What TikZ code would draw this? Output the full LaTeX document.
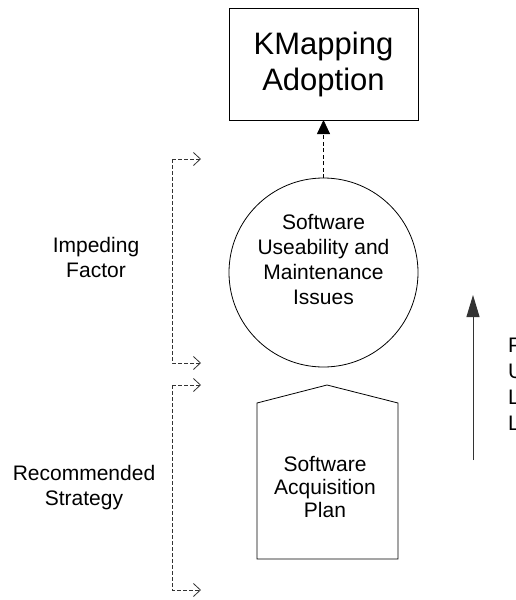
\documentclass[tikz,border=0pt]{standalone}
\usepackage{fontspec}
\setmainfont{Liberation Sans}
\usetikzlibrary{arrows.meta}
\begin{document}
\begin{tikzpicture}[x=1pt,y=-1pt,
  every node/.style={inner sep=0pt,outer sep=0pt},
  shapeline/.style={draw=black,line width=0.8pt},
  txt/.style={align=center,font=\fontsize{21}{25}\selectfont},
  bigtxt/.style={align=center,font=\fontsize{31}{36}\selectfont},
  bracket/.style={draw=black!80,line width=0.8pt,dash pattern=on 3.5pt off 2.5pt,
    -{Straight Barb[length=7pt,width=13pt,line width=0.8pt]}},
  dasharrow/.style={draw=black,line width=0.8pt,dash pattern=on 4pt off 2.5pt,
    -{Triangle[length=14pt,width=13pt]}},
  pullarrow/.style={draw=black!80,line width=1pt,-{Triangle[length=22pt,width=13pt]}}]
\useasboundingbox (0,0) rectangle (516,600);
% KMapping Adoption box
\node[shapeline,minimum width=189pt,minimum height=112pt,bigtxt] (adopt) at (323.5,64) {KMapping\\Adoption};
% circle
\node[shapeline,circle,minimum size=189pt] (issues) at (323.5,272.5) {};
\node[txt] (issuestxt) at (323.5,259.5) {Software\\Useability and\\Maintenance\\Issues};
% pentagon
\draw[shapeline] (257,559) -- (257,403) -- (327,385) -- (398,403) -- (398,559) -- cycle;
\node[txt,font=\fontsize{21}{23}\selectfont] (plan) at (325,486.5) {Software\\Acquisition\\Plan};
% dashed arrow circle -> box
\draw[dasharrow] (issues.north) -- (adopt.south);
% left labels
\node[txt] (impeding) at (96,257.5) {Impeding\\Factor};
\node[txt] (strategy) at (84,487.5) {Recommended\\Strategy};
% brackets
\coordinate (b1a) at (201,159);
\coordinate (b1b) at (201,363);
\coordinate (b2a) at (201,385);
\coordinate (b2b) at (201,590);
\draw[bracket] (172,159) -- (b1a);
\draw[bracket] (172,159) -- (172,363) -- (b1b);
\draw[bracket] (172,385) -- (b2a);
\draw[bracket] (172,385) -- (172,590) -- (b2b);
% right pull arrow
\coordinate (pullbot) at (473,460);
\coordinate (pulltop) at (473,295);
\draw[pullarrow] (pullbot) -- (pulltop);
\node[anchor=west,align=left,font=\fontsize{21}{26}\selectfont] (pull) at (508,384) {P\\U\\L\\L};
\end{tikzpicture}
\end{document}
